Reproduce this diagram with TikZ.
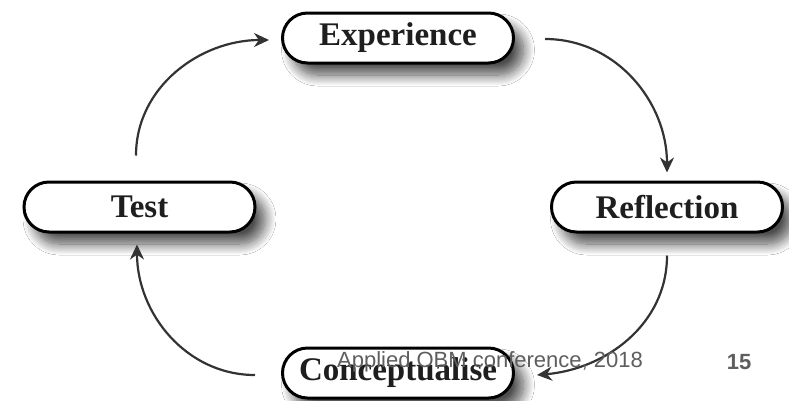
\documentclass[tikz,border=0pt]{standalone}
\usepackage{fontspec}
\setmainfont{Liberation Serif}
\newfontfamily\footfont{Liberation Sans}
\usetikzlibrary{arrows.meta,shadows.blur}
\definecolor{ink}{HTML}{1E1E1E}
\definecolor{arrowink}{HTML}{333333}
\definecolor{footgray}{HTML}{5E5E5E}
\tikzset{
  stagebox/.style={draw=black, line width=3pt, fill=white, rounded corners=25pt,
    minimum width=231pt, minimum height=50pt, inner sep=0pt,
    font=\fontsize{33}{33}\selectfont\bfseries, text=ink,
    blur shadow={shadow xshift=10pt, shadow yshift=-12pt, shadow blur radius=11pt,
      shadow blur steps=14, shadow opacity=70}},
  cyclearrow/.style={draw=arrowink, line width=2.2pt,
    -{Stealth[length=15pt,width=14pt]}},
  foottext/.style={text=footgray, font=\footfont\fontsize{22}{22}\selectfont, inner sep=0pt}
}
\begin{document}
\begin{tikzpicture}[x=1pt,y=-1pt]
\useasboundingbox[fill=white] (0,0) rectangle (789,400);
\node[stagebox] (exp) at (398,38) {Experience};
\node[stagebox] (test) at (139.5,207) {Test};
\node[stagebox] (refl) at (667,207) {Reflection};
\node[stagebox] (conc) at (398,373) {Conceptualise};
\draw[cyclearrow] ([xshift=-3.5pt,yshift=25pt]test.north) to[out=90,in=180] ([xshift=-12pt,yshift=-2pt]exp.west);
\draw[cyclearrow] ([xshift=30pt,yshift=-1pt]exp.east) to[out=0,in=90] ([yshift=8pt]refl.north);
\draw[cyclearrow] ([yshift=-22pt]refl.south) to[out=-90,in=5] ([xshift=22pt,yshift=-2pt]conc.east);
\draw[cyclearrow] ([xshift=-26pt,yshift=-2pt]conc.west) to[out=180,in=-90] ([xshift=-2.5pt,yshift=-11pt]test.south);
\node[foottext] (foot) at (490,362) {Applied OBM conference, 2018};
\node[foottext, font=\footfont\fontsize{22}{22}\selectfont\bfseries] (page) at (739,362) {15};
\end{tikzpicture}
\end{document}
